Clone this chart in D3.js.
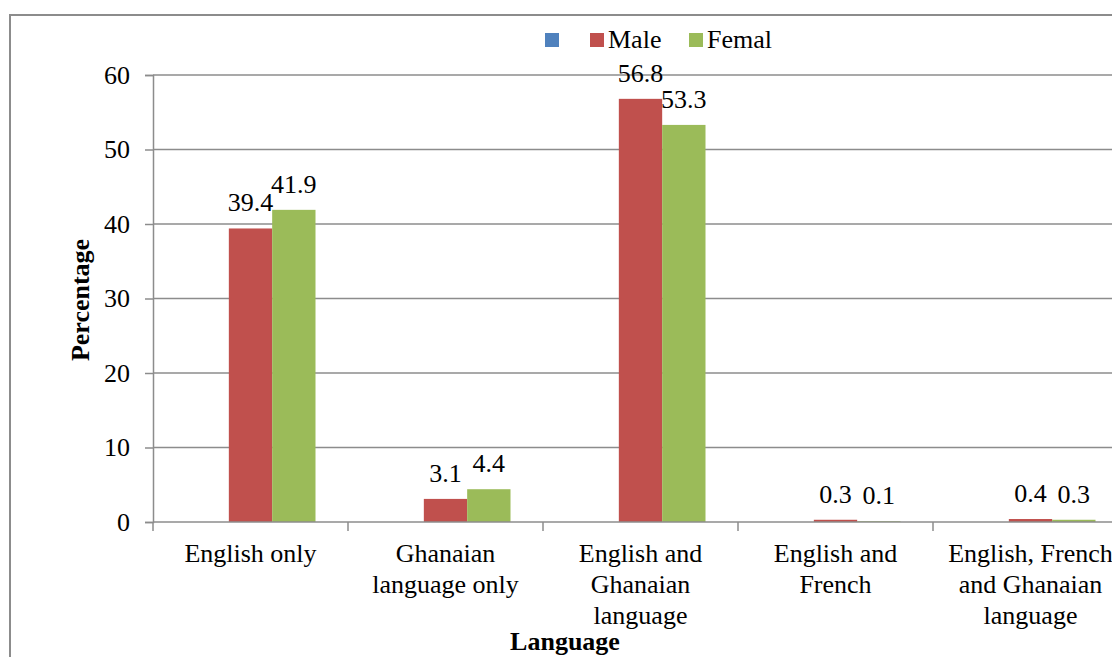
<!DOCTYPE html>
<html>
<head>
<meta charset="utf-8">
<script src="https://cdn.jsdelivr.net/npm/d3@7"></script>
<style>
  html, body { margin: 0; padding: 0; background: #fff; }
  svg { display: block; font-family: "Liberation Serif", "Times New Roman", serif; }
</style>
</head>
<body>
<svg id="chart" width="1112" height="657"></svg>
<script>
const categories = ["English only", "Ghanaian language only", "English and Ghanaian language", "English and French", "English, French and Ghanaian language"];
const categoryLines = [["English only"], ["Ghanaian", "language only"], ["English and", "Ghanaian", "language"], ["English and", "French"], ["English, French", "and Ghanaian", "language"]];
const seriesNames = ["", "Male", "Femal"];
const seriesColors = ["#4F81BD", "#C0504D", "#9BBB59"];
const blankValues = [null, null, null, null, null];
const maleValues = [39.4, 3.1, 56.8, 0.3, 0.4];
const femaleValues = [41.9, 4.4, 53.3, 0.1, 0.3];
const yTicks = [0, 10, 20, 30, 40, 50, 60];

const seriesValues = [blankValues, maleValues, femaleValues];

const svg = d3.select("#chart");
const plot = { left: 153, right: 1128, top: 75, bottom: 522 };
const FS = 26;
const FONT = "Liberation Serif";
const gridColor = "#8c8c8c";

// outer chart border
svg.append("rect").attr("x", 10).attr("y", 15).attr("width", 1160).attr("height", 700)
  .attr("fill", "none").attr("stroke", gridColor).attr("stroke-width", 2);

const x = d3.scaleBand().domain(categories).range([plot.left, plot.right]).paddingInner(0).paddingOuter(0);
const xs = d3.scaleBand().domain(seriesNames.map((d, i) => i)).range([0, x.bandwidth()]).paddingInner(0).paddingOuter(0.75);
const y = d3.scaleLinear().domain([0, 60]).range([plot.bottom, plot.top]);

// gridlines
svg.append("g").selectAll("line").data(yTicks.filter(d => d > 0)).join("line")
  .attr("x1", plot.left).attr("x2", plot.right)
  .attr("y1", d => y(d)).attr("y2", d => y(d))
  .attr("stroke", gridColor).attr("stroke-width", 1.5);

// y axis
const yAxis = svg.append("g").attr("transform", `translate(${plot.left},0)`)
  .call(d3.axisLeft(y).tickValues(yTicks).tickSize(8).tickPadding(15).tickFormat(d3.format("d")));
yAxis.attr("font-family", FONT);
yAxis.select(".domain").attr("stroke", gridColor).attr("stroke-width", 1.5);
yAxis.selectAll(".tick line").attr("stroke", gridColor).attr("stroke-width", 1.5);
yAxis.selectAll(".tick text").attr("font-size", FS).attr("font-family", FONT).attr("fill", "#000");

// bars
const barsG = svg.append("g");
seriesValues.forEach((vals, si) => {
  barsG.append("g").selectAll("rect")
    .data(vals.map((v, ci) => ({ v, c: categories[ci] })).filter(d => d.v != null))
    .join("rect")
    .attr("x", d => x(d.c) + xs(si))
    .attr("width", xs.bandwidth())
    .attr("y", d => y(d.v))
    .attr("height", d => y(0) - y(d.v))
    .attr("fill", seriesColors[si]);
});

// x axis
const xAxisG = svg.append("g").attr("transform", `translate(0,${plot.bottom})`);
xAxisG.append("line").attr("x1", plot.left).attr("x2", plot.right).attr("y1", 0).attr("y2", 0)
  .attr("stroke", gridColor).attr("stroke-width", 1.5);
const boundaries = categories.map(c => x(c)).concat([plot.right]);
xAxisG.selectAll("line.tk").data(boundaries).join("line").attr("class", "tk")
  .attr("x1", d => d).attr("x2", d => d).attr("y1", 0).attr("y2", 9)
  .attr("stroke", gridColor).attr("stroke-width", 1.5);

// category labels
categoryLines.forEach((lines, ci) => {
  const t = svg.append("text").attr("text-anchor", "middle").attr("font-size", FS)
    .attr("font-family", FONT).attr("fill", "#000");
  lines.forEach((ln, li) => {
    t.append("tspan").attr("x", x(categories[ci]) + x.bandwidth() / 2).attr("y", 562 + li * 31).text(ln);
  });
});

// data labels
seriesValues.forEach((vals, si) => {
  svg.append("g").selectAll("text")
    .data(vals.map((v, ci) => ({ v, c: categories[ci] })).filter(d => d.v != null))
    .join("text")
    .attr("x", d => x(d.c) + xs(si) + xs.bandwidth() / 2)
    .attr("y", d => y(d.v) - 17)
    .attr("text-anchor", "middle")
    .attr("font-size", FS)
    .attr("font-family", FONT)
    .attr("fill", "#000")
    .text(d => d3.format(".1f")(d.v));
});

// axis titles
svg.append("text").attr("x", 565).attr("y", 650).attr("text-anchor", "middle")
  .attr("font-size", FS).attr("font-family", FONT).attr("font-weight", "bold").text("Language");
svg.append("text").attr("transform", "translate(89,300) rotate(-90)").attr("text-anchor", "middle")
  .attr("font-size", FS).attr("font-family", FONT).attr("font-weight", "bold").text("Percentage");

// legend
const legendItems = [
  { sx: 545, tx: 610 },
  { sx: 590, tx: 608 },
  { sx: 689, tx: 707 }
];
seriesNames.forEach((name, i) => {
  svg.append("rect").attr("x", legendItems[i].sx).attr("y", 33).attr("width", 14).attr("height", 14)
    .attr("fill", seriesColors[i]);
  if (name) {
    svg.append("text").attr("x", legendItems[i].tx).attr("y", 48).attr("font-size", FS)
      .attr("font-family", FONT).attr("fill", "#000").text(name);
  }
});
</script>
</body>
</html>
